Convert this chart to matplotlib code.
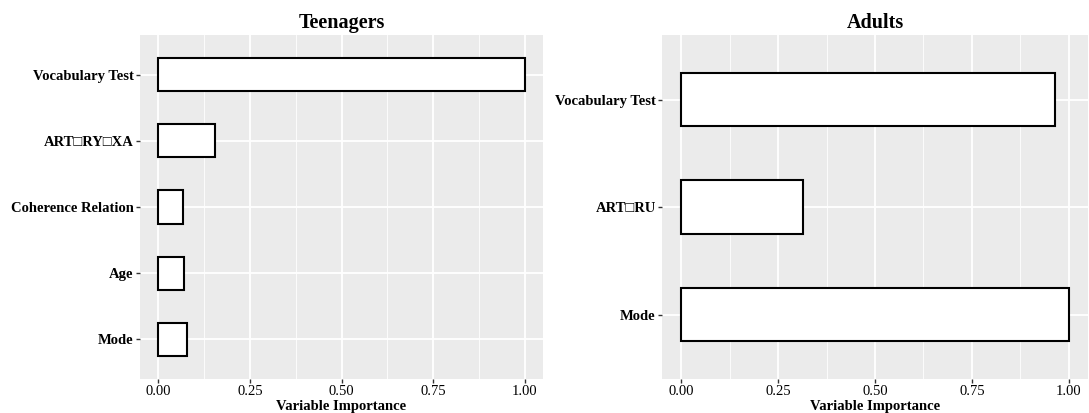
import matplotlib
matplotlib.use("Agg")
import matplotlib.pyplot as plt
import numpy as np

teen_vars = ["Mode", "Age", "Coherence Relation", "ART\u25a1RY\u25a1XA", "Vocabulary Test"]
teen_vals = [0.077, 0.070, 0.067, 0.156, 1.00]
adult_vars = ["Mode", "ART\u25a1RU", "Vocabulary Test"]
adult_vals = [1.00, 0.314, 0.964]
xticks = [0.0, 0.25, 0.5, 0.75, 1.0]
xtick_labels = ["0.00", "0.25", "0.50", "0.75", "1.00"]

W, H = 1089, 413
fig = plt.figure(figsize=(W / 100, H / 100), dpi=100)
FAM = ["Liberation Serif", "DejaVu Serif"]


def panel(rect, names, vals, title):
    ax = fig.add_axes(rect)
    ax.set_facecolor("#EBEBEB")
    n = len(names)
    y = np.arange(1, n + 1)
    ax.set_xlim(-0.05, 1.05)
    ax.set_ylim(0.4, n + 0.6)
    for v in [0.125, 0.375, 0.625, 0.875]:
        ax.axvline(v, color="white", lw=0.6, zorder=0)
    for v in xticks:
        ax.axvline(v, color="white", lw=1.3, zorder=0)
    for yy in y:
        ax.axhline(yy, color="white", lw=1.3, zorder=0)
    ax.barh(y, vals, height=0.5, color="white", edgecolor="black", linewidth=1.5, zorder=2)
    ax.set_yticks(y)
    ax.set_yticklabels(names, family=FAM, fontweight="bold", fontsize=10.5)
    ax.set_xticks(xticks)
    ax.set_xticklabels(xtick_labels, family=FAM, fontsize=10.5)
    ax.tick_params(length=3, width=1, color="#333333", pad=1.5)
    for s in ax.spines.values():
        s.set_visible(False)
    ax.set_xlabel("Variable Importance", family=FAM, fontweight="bold", fontsize=10.5, labelpad=1)
    ax.set_title(title, family=FAM, fontweight="bold", fontsize=14.5, pad=5)
    return ax


panel([140 / W, 34 / H, 403 / W, 344 / H], teen_vars, teen_vals, "Teenagers")
panel([662 / W, 34 / H, 426 / W, 344 / H], adult_vars, adult_vals, "Adults")

fig.savefig("out.png", dpi=100)
